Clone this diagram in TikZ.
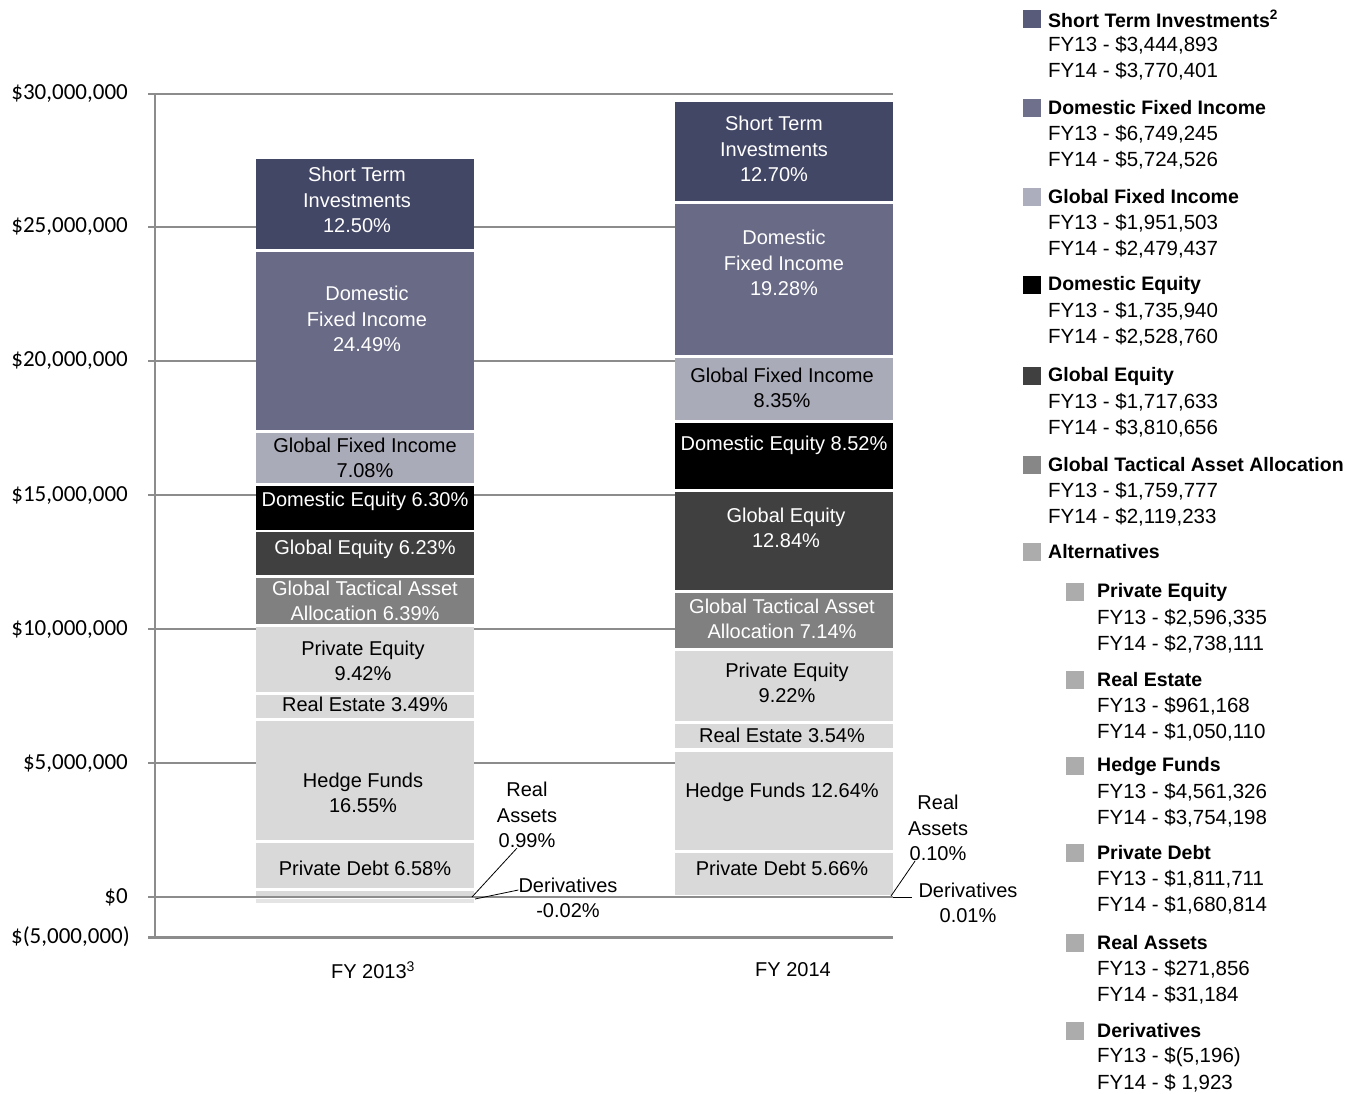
\documentclass[tikz,border=0pt]{standalone}
\usepackage{fontspec}
\setmainfont{Liberation Sans}
\newfontfamily\axisfont{Carlito}
\usepackage{tikz}
\usepackage{xcolor}

\definecolor{stblue}{RGB}{67,71,102}
\definecolor{dfiblue}{RGB}{104,106,134}
\definecolor{gfiblue}{RGB}{170,171,185}
\definecolor{geqgray}{RGB}{64,64,64}
\definecolor{gtaagray}{RGB}{128,128,128}
\definecolor{altgray}{RGB}{217,217,217}
\definecolor{dergray}{RGB}{228,228,228}
\definecolor{gridgray}{RGB}{140,140,140}
\definecolor{legst}{RGB}{88,91,122}
\definecolor{legdfi}{RGB}{110,112,140}
\definecolor{leggfi}{RGB}{172,174,190}
\definecolor{leggtaa}{RGB}{135,135,135}
\definecolor{legalt}{RGB}{172,172,172}

\tikzset{
  gridline/.style={gridgray, line width=2pt},
  inlbl/.style={font=\fontsize{20}{25.5}\selectfont, align=center, inner sep=0pt},
  whitelbl/.style={inlbl, text=white},
  axislbl/.style={font=\axisfont\fontsize{23}{27}\selectfont, anchor=east, inner sep=0pt},
  legtitle/.style={font=\bfseries\fontsize{19.5}{23}\selectfont, anchor=west, inner sep=0pt},
  legval/.style={font=\fontsize{20.5}{24}\selectfont, anchor=west, inner sep=0pt},
  leader/.style={black, line width=0.8pt},
}

\begin{document}
\begin{tikzpicture}[x=1pt,y=-1pt]
\useasboundingbox (0,0) rectangle (1360,1093);
\foreach \yy/\lbl in {94/{\$30,000,000},227/{\$25,000,000},361/{\$20,000,000},495/{\$15,000,000},629/{\$10,000,000},763/{\$5,000,000},897/{\$0}}{
  \draw[gridline] (148,\yy) -- (893,\yy);
  \node[axislbl] (ax\yy) at (128,\yy) {\lbl};
}
\draw[gridgray, line width=3pt] (148,937) -- (893,937);
\draw[gridgray, line width=2pt] (155,94) -- (155,937);
\node[axislbl] (axneg) at (130,937) {\$(5,000,000)};

\fill[stblue] (256,159) rectangle (474,249);
\fill[dfiblue] (256,252) rectangle (474,430);
\fill[gfiblue] (256,433) rectangle (474,483);
\fill[black] (256,486) rectangle (474,530);
\fill[geqgray] (256,532) rectangle (474,575);
\fill[gtaagray] (256,578) rectangle (474,624);
\fill[altgray] (256,627) rectangle (474,692);
\fill[altgray] (256,695) rectangle (474,718);
\fill[altgray] (256,721) rectangle (474,840);
\fill[altgray] (256,843) rectangle (474,888);
\fill[altgray] (256,891) rectangle (474,895.5);
\fill[dergray] (256,898.5) rectangle (474,903);

\fill[stblue] (675,102) rectangle (893,201);
\fill[dfiblue] (675,204) rectangle (893,355);
\fill[gfiblue] (675,358) rectangle (893,420);
\fill[black] (675,423) rectangle (893,489);
\fill[geqgray] (675,492) rectangle (893,590);
\fill[gtaagray] (675,593) rectangle (893,648);
\fill[altgray] (675,651) rectangle (893,721);
\fill[altgray] (675,724) rectangle (893,748);
\fill[altgray] (675,752) rectangle (893,850);
\fill[altgray] (675,853) rectangle (893,895);

\node[whitelbl] (st13) at (357,200) {Short Term\\Investments\\12.50\%};
\node[whitelbl] (dfi13) at (367,319) {Domestic\\Fixed Income\\24.49\%};
\node[inlbl] (gfi13) at (365,458) {Global Fixed Income\\7.08\%};
\node[whitelbl] (de13) at (365,501) {Domestic Equity 6.30\%};
\node[whitelbl] (ge13) at (365,549) {Global Equity 6.23\%};
\node[whitelbl] (gtaa13) at (365,601) {Global Tactical Asset\\Allocation 6.39\%};
\node[inlbl] (pe13) at (363,661) {Private Equity\\9.42\%};
\node[inlbl] (re13) at (365,704) {Real Estate 3.49\%};
\node[inlbl] (hf13) at (363,793) {Hedge Funds\\16.55\%};
\node[inlbl] (pd13) at (365,868) {Private Debt 6.58\%};
\node[inlbl] (ra13) at (527,815) {Real\\Assets\\0.99\%};
\node[inlbl] (der13) at (568,898) {Derivatives\\-0.02\%};

\node[whitelbl] (st14) at (774,149) {Short Term\\Investments\\12.70\%};
\node[whitelbl] (dfi14) at (784,263) {Domestic\\Fixed Income\\19.28\%};
\node[inlbl] (gfi14) at (782,388) {Global Fixed Income\\8.35\%};
\node[whitelbl] (de14) at (784,445) {Domestic Equity 8.52\%};
\node[whitelbl] (ge14) at (786,528) {Global Equity\\12.84\%};
\node[whitelbl] (gtaa14) at (782,619) {Global Tactical Asset\\Allocation 7.14\%};
\node[inlbl] (pe14) at (787,683) {Private Equity\\9.22\%};
\node[inlbl] (re14) at (782,735) {Real Estate 3.54\%};
\node[inlbl] (hf14) at (782,792) {Hedge Funds 12.64\%};
\node[inlbl] (pd14) at (782,868) {Private Debt 5.66\%};
\node[inlbl] (ra14) at (938,828) {Real\\Assets\\0.10\%};
\node[inlbl] (der14) at (968,903) {Derivatives\\0.01\%};

\coordinate (ra13pt) at (472,897);
\coordinate (der13pt) at (475,899);
\coordinate (ra14pt) at (891,896);
\coordinate (der14pt) at (893,897);
\draw[leader] (ra13pt) -- ([xshift=-10pt]ra13.south);
\draw[leader] (der13pt) -- ([yshift=8pt]der13.west);
\draw[leader] (ra14pt) -- ([xshift=-23pt]ra14.south);
\draw[leader, shorten >=6pt] (der14pt) -- (der14pt -| der14.west);

\node[inlbl] (fy13) at (373,970) {FY 2013\textsuperscript{3}};
\node[inlbl] (fy14) at (793,970) {FY 2014};

\foreach \nm/\ttl/\va/\vb/\yy/\col in {
  st/{Short Term Investments\textsuperscript{2}}/{\$3,444,893}/{\$3,770,401}/19/legst,
  dfi/{Domestic Fixed Income}/{\$6,749,245}/{\$5,724,526}/108/legdfi,
  gfi/{Global Fixed Income}/{\$1,951,503}/{\$2,479,437}/197/leggfi,
  de/{Domestic Equity}/{\$1,735,940}/{\$2,528,760}/285/black,
  ge/{Global Equity}/{\$1,717,633}/{\$3,810,656}/376/geqgray,
  gtaa/{Global Tactical Asset Allocation}/{\$1,759,777}/{\$2,119,233}/465/leggtaa}{
  \fill[\col] (1023,\yy-9) rectangle ++(18,18);
  \node[legtitle] (\nm-t) at (1048,\yy) {\ttl};
  \node[legval] (\nm-a) at (1048,\yy+26) {FY13 - \va};
  \node[legval] (\nm-b) at (1048,\yy+52) {FY14 - \vb};
}
\fill[legalt] (1023,543) rectangle ++(18,18);
\node[legtitle] (alt-t) at (1048,552) {Alternatives};
\foreach \nm/\ttl/\va/\vb/\yy in {
  pe/{Private Equity}/{\$2,596,335}/{\$2,738,111}/592,
  re/{Real Estate}/{\$961,168}/{\$1,050,110}/680,
  hf/{Hedge Funds}/{\$4,561,326}/{\$3,754,198}/766,
  pd/{Private Debt}/{\$1,811,711}/{\$1,680,814}/853,
  ra/{Real Assets}/{\$271,856}/{\$31,184}/943,
  der/{Derivatives}/{\$(5,196)}/{\$ 1,923}/1031}{
  \fill[legalt] (1066,\yy-9) rectangle ++(18,18);
  \node[legtitle] (\nm-t) at (1097,\yy) {\ttl};
  \node[legval] (\nm-a) at (1097,\yy+26) {FY13 - \va};
  \node[legval] (\nm-b) at (1097,\yy+52) {FY14 - \vb};
}
\end{tikzpicture}
\end{document}
